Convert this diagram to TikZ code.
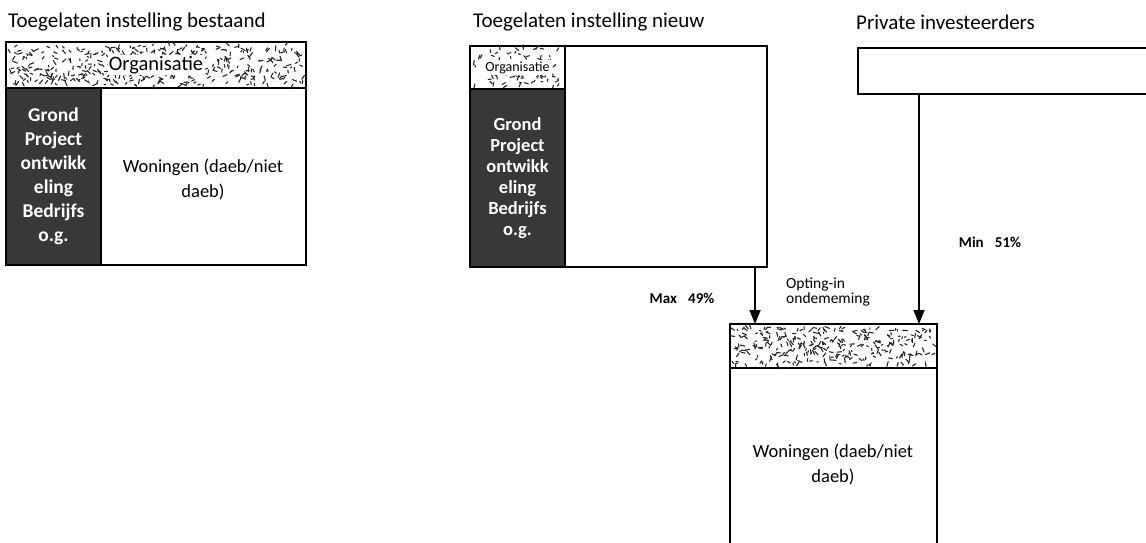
\documentclass[tikz,border=0pt]{standalone}
\usepackage{fontspec}
\setmainfont{Carlito}
\usetikzlibrary{arrows.meta}
\newcommand{\myspeck}[5]{%
  \foreach \k in {1,...,#5}{%
    \pgfmathsetmacro{\sx}{#1+rnd*(#3-#1)}%
    \pgfmathsetmacro{\sy}{#2+rnd*(#4-#2)}%
    \pgfmathsetmacro{\sa}{rnd*360}%
    \pgfmathsetmacro{\sl}{1.5+rnd*3.5}%
    \draw[line width=1.1pt,black!85,line cap=round] (\sx,\sy) -- ++(\sa:\sl pt);
  }}
\begin{document}
\begin{tikzpicture}[x=1pt,y=-1pt,
  box/.style={draw,line width=1.4pt,inner sep=0pt,outer sep=0pt,anchor=north west},
  ghost/.style={inner sep=0pt,outer sep=0pt,anchor=north west},
  title/.style={font=\fontsize{21}{23}\selectfont,anchor=west,inner sep=0pt},
  dark/.style={box,fill=black!78},
  darktxt/.style={text=white,font=\bfseries\fontsize{19.5}{24}\selectfont,align=center,inner sep=0pt},
  wtxt/.style={font=\fontsize{18.5}{25}\selectfont,align=center,inner sep=0pt},
  lbl/.style={font=\bfseries\fontsize{15}{15}\selectfont,inner sep=0pt},
  arr/.style={line width=1.8pt,-{Triangle[length=14pt,width=11pt]}}]
\useasboundingbox (0,0) rectangle (1146,543);
\pgfmathsetseed{7}

% ---------- left: bestaand ----------
\node[title] (t1) at (8,22) {Toegelaten instelling bestaand};
\node[box,minimum width=300pt,minimum height=223pt] (L) at (6,42) {};
\node[box,minimum width=300pt,minimum height=46pt] (Lorg) at (6,42) {};
\myspeck{9}{45}{303}{85}{420}
\node[fill=white,inner sep=1pt,font=\fontsize{20.5}{22}\selectfont] (Lorgt) at (156,65) {Organisatie};
\node[dark,minimum width=95pt,minimum height=177pt] (Lgr) at (6,88) {};
\node[darktxt] (Lgrt) at (Lgr.center) {Grond\\Project\\ontwikk\\eling\\Bedrijfs\\o.g.};
\node[wtxt] (Lwon) at (203,180) {Woningen (daeb/niet\\daeb)};

% ---------- middle: nieuw ----------
\node[title] (t2) at (473,22) {Toegelaten instelling nieuw};
\node[box,minimum width=297pt,minimum height=221pt] (M) at (470,46) {};
\node[box,minimum width=95pt,minimum height=43pt] (Morg) at (470,46) {};
\myspeck{473}{49}{562}{86}{90}
\node[fill=white,inner sep=1pt,font=\fontsize{14}{16}\selectfont] (Morgt) at (Morg.center) {Organisatie};
\node[dark,minimum width=95pt,minimum height=178pt] (Mgr) at (470,89) {};
\node[darktxt,font=\bfseries\fontsize{18.5}{21}\selectfont] (Mgrt) at (Mgr.center) {Grond\\Project\\ontwikk\\eling\\Bedrijfs\\o.g.};

% ---------- right: private ----------
\node[title] (t3) at (856,22) {Private investeerders};
\node[ghost,minimum width=290pt,minimum height=46pt] (P) at (858,48) {};
\draw[line width=1.4pt] (P.north east) -- (P.north west) -- (P.south west) -- (P.south east);

% ---------- bottom: opting-in ----------
\node[ghost,minimum width=207pt,minimum height=222pt] (B) at (730,324) {};
\draw[line width=1.4pt] (B.south west) -- (B.north west) -- (B.north east) -- (B.south east);
\node[box,minimum width=207pt,minimum height=44pt] (Borg) at (730,324) {};
\myspeck{733}{327}{934}{365}{300}
\node[wtxt] (Bwon) at (833,465) {Woningen (daeb/niet\\daeb)};

% ---------- connectors ----------
\coordinate (ax1) at (755,0);
\coordinate (ax2) at (919,0);
\draw[arr] (M.south -| ax1) -- (B.north -| ax1);
\draw[arr] (P.south -| ax2) -- (B.north -| ax2);

\node[lbl] (max) at (682,298) {Max\hspace{0.75em}49\%};
\node[lbl,align=left,anchor=west,font=\fontsize{15.5}{15}\selectfont] (opt) at (786,292) {Opting-in\\ondememing};
\node[lbl] (min) at (990,242) {Min\hspace{0.75em}51\%};
\end{tikzpicture}
\end{document}
